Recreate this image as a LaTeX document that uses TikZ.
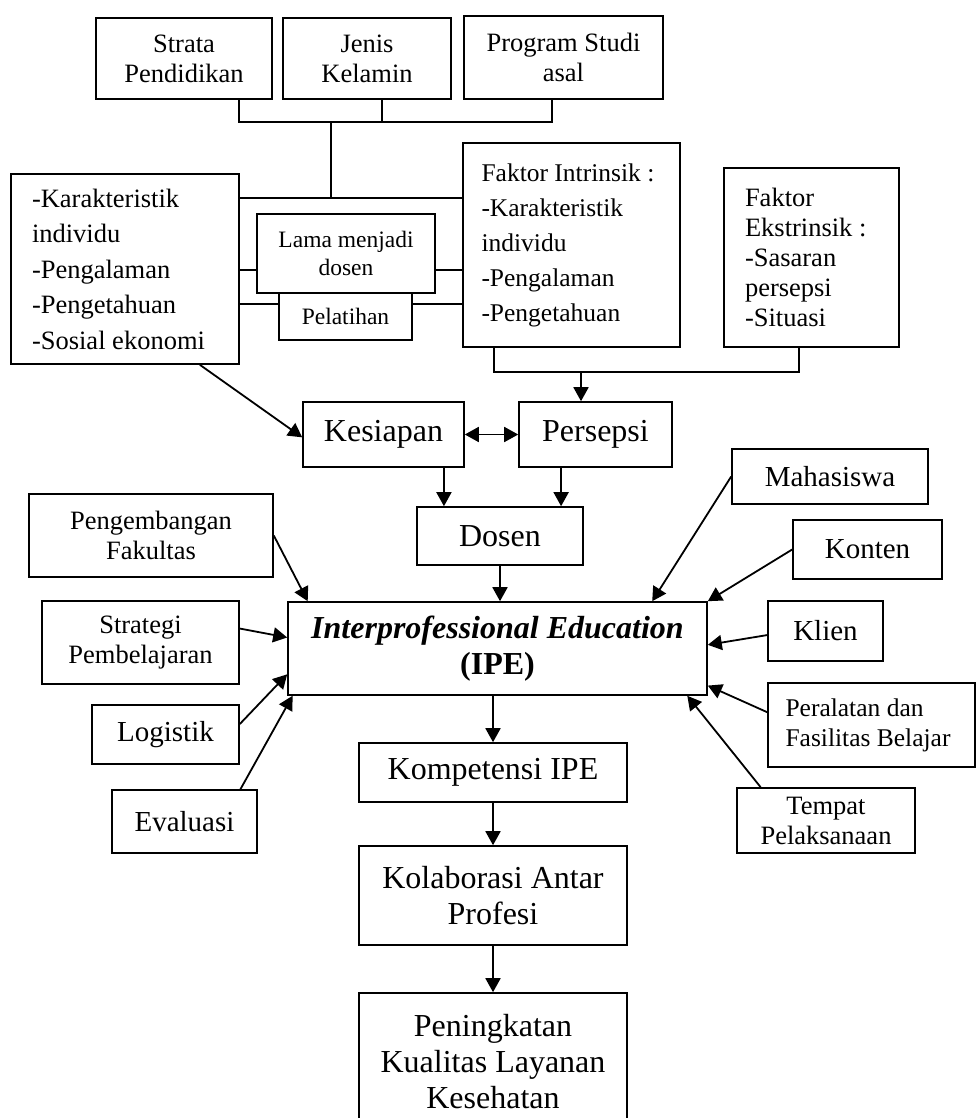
\documentclass[tikz,border=0pt]{standalone}
\usepackage{fontspec}
\setmainfont{Liberation Serif}
\usetikzlibrary{arrows.meta}

\newcommand{\szL}{\fontsize{32}{36}\selectfont}
\newcommand{\szN}{\fontsize{29}{33}\selectfont}
\newcommand{\szM}{\fontsize{26.5}{30}\selectfont}
\newcommand{\szW}{\fontsize{26.5}{35.5}\selectfont}
\newcommand{\szI}{\fontsize{25.5}{35}\selectfont}
\newcommand{\szP}{\fontsize{25.5}{30}\selectfont}
\newcommand{\szS}{\fontsize{23.5}{28}\selectfont}

\begin{document}
\begin{tikzpicture}[x=1pt,y=-1pt,>={Triangle[length=14pt,width=15pt]},
  blok/.style={draw,line width=1.6pt,inner sep=0pt,align=center},
  ukuran/.style 2 args={minimum width=#1pt,minimum height=#2pt},
  tipis/.style={line width=1.1pt},
  tebal/.style={line width=2pt}]
\useasboundingbox (0,0) rectangle (977,1118);

% latar belakang dosen
\node[blok,ukuran={176}{81},font=\szM] (strata) at (184,58.5) {Strata\\Pendidikan};
\node[blok,ukuran={168}{81},font=\szM] (jenis) at (367,58.5) {Jenis\\Kelamin};
\node[blok,ukuran={199}{83},font=\szM] (prodi) at (563.5,57.5) {Program Studi\\asal};

\node[blok,ukuran={228}{190},font=\szW,text width=186pt,align=flush left] (indiv) at (125,269)
  {-Karakteristik\\individu\\-Pengalaman\\-Pengetahuan\\-Sosial ekonomi};
\node[blok,ukuran={178}{79},font=\szS] (lama) at (346,253.5) {Lama menjadi\\dosen};
\node[blok,ukuran={133}{47},font=\szS] (latih) at (345.5,316.5) {Pelatihan};
\node[blok,ukuran={217}{204},font=\szI,text width=180pt,align=flush left] (intr) at (571.5,245)
  {Faktor Intrinsik :\\-Karakteristik\\individu\\-Pengalaman\\-Pengetahuan};
\node[blok,ukuran={175}{179},font=\szM,text width=133pt,align=flush left] (ekstr) at (811.5,257.5)
  {Faktor\\Ekstrinsik :\\-Sasaran\\persepsi\\-Situasi};

% alur utama
\node[blok,ukuran={161}{65},font=\szL] (kesiapan) at (383.5,434.5) {Kesiapan};
\node[blok,ukuran={153}{65},font=\szL] (persepsi) at (595.5,434.5) {Persepsi};
\node[blok,ukuran={166}{58},font=\szL] (dosen) at (500,536) {Dosen};
\node[blok,ukuran={419}{93},font=\szL] (ipe) at (497.5,648.5)
  {\textbf{\textit{Interprofessional Education}}\\\textbf{(IPE)}};
\node[blok,ukuran={268}{59},font=\szL] (komp) at (493,772.5) {Kompetensi IPE};
\node[blok,ukuran={268}{99},font=\szL] (kolab) at (493,895.5) {Kolaborasi Antar\\Profesi};
\node[blok,ukuran={268}{137},font=\szL] (mutu) at (493,1061.5) {Peningkatan\\Kualitas Layanan\\Kesehatan};

% faktor kiri
\node[blok,ukuran={244}{83},font=\szM] (fakultas) at (151,535.5) {Pengembangan\\Fakultas};
\node[blok,ukuran={197}{83},font=\szM] (strategi) at (140.5,642.5) {Strategi\\Pembelajaran};
\node[blok,ukuran={147}{59},font=\szN] (logistik) at (165.5,734.5) {Logistik};
\node[blok,ukuran={145}{63},font=\szN] (evaluasi) at (184.5,821.5) {Evaluasi};

% faktor kanan
\node[blok,ukuran={196}{55},font=\szN] (mhs) at (830,476.5) {Mahasiswa};
\node[blok,ukuran={149}{59},font=\szN] (konten) at (867.5,549.5) {Konten};
\node[blok,ukuran={115}{60},font=\szN] (klien) at (825.5,631) {Klien};
\node[blok,ukuran={207}{84},font=\szP,text width=172pt,align=flush left] (alat) at (871.5,725)
  {Peralatan dan\\Fasilitas Belajar};
\node[blok,ukuran={178}{65},font=\szM] (tempat) at (826,820.5) {Tempat\\Pelaksanaan};

% garis penghubung atas
\coordinate (sL) at (239,122);
\coordinate (sJ) at (382,122);
\coordinate (sM) at (331,122);
\coordinate (sR) at (552,122);
\coordinate (hub) at (331,198);
\coordinate (r1) at (0,270);
\coordinate (r2) at (0,304);
\draw[tipis] (strata.south -| sL) -- (sL) -- (sR) -- (sR |- prodi.south);
\draw[tipis] (sJ |- jenis.south) -- (sJ);
\draw[tipis] (sM) -- (hub);
\draw[tebal] (hub -| indiv.east) -- (hub -| intr.west);
\draw[tebal] (r1 -| indiv.east) -- (r1 -| lama.west)
             (r1 -| lama.east) -- (r1 -| intr.west);
\draw[tebal] (r2 -| indiv.east) -- (r2 -| latih.west)
             (r2 -| latih.east) -- (r2 -| intr.west);

% faktor persepsi
\coordinate (bL) at (494,372);
\coordinate (bM) at (581,372);
\coordinate (bR) at (799,372);
\draw[tipis] (bL |- intr.south) -- (bL) -- (bR) -- (bR |- ekstr.south);

\path[->,line width=1.8pt]
  (bM) edge (bM |- persepsi.north)
  (indiv.-52) edge (kesiapan.182)
  (kesiapan.east) edge[<->] (persepsi.west)
  (dosen.152 |- kesiapan.south) edge (dosen.152)
  (dosen.26 |- persepsi.south) edge (dosen.26)
  (dosen.south) edge (dosen.south |- ipe.north)
  (fakultas.east) edge (ipe.166)
  (strategi.8) edge (ipe.177)
  (logistik.8) edge (ipe.187)
  (evaluasi.30) edge (ipe.193)
  (mhs.west) edge (ipe.17)
  (konten.west) edge (ipe.north east)
  (klien.184) edge (ipe.1)
  (alat.173) edge (ipe.-10)
  (tempat.153) edge (ipe.-14)
  (komp.north |- ipe.south) edge (komp.north)
  (komp) edge (kolab)
  (kolab) edge (mutu);
\end{tikzpicture}
\end{document}
